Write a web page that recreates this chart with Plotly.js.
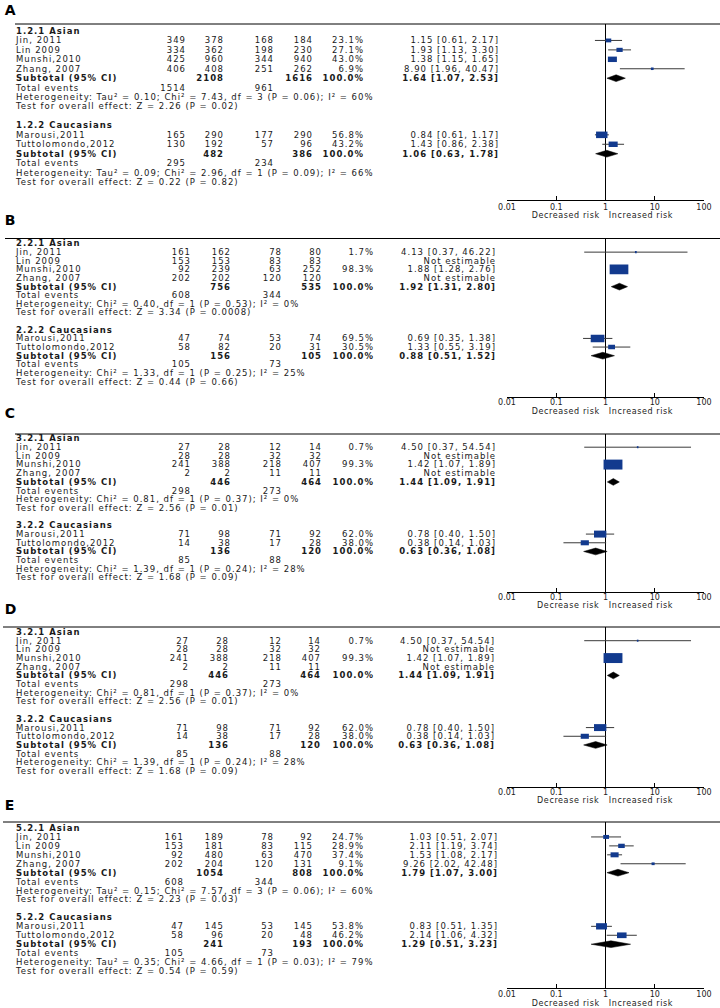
<!DOCTYPE html>
<html>
<head>
<meta charset="utf-8">
<script src="https://cdn.plot.ly/plotly-3.0.1.min.js"></script>
<style>
body{margin:0;background:#fff}
/* the reference glyphs are stretched sideways, so open the text up a little */
#chart .textpoint text{letter-spacing:1px}
#chart .annotation-text{letter-spacing:0.6px}
</style>
</head>
<body>
<div id="chart" style="width:720px;height:1008px"></div>
<script>
// study names (same order in every panel: 4 Asian, then 2 Caucasian)
const studyNames = ['Jin, 2011', 'Lin 2009', 'Munshi,2010', 'Zhang, 2007', 'Marousi,2011', 'Tuttolomondo,2012'];
const tickVals = [0.01, 0.1, 1, 10, 100];
const tickText = ['0.01', '0.1', '1', '10', '100'];

// panel A
const aGroups = ['1.2.1 Asian', '1.2.2 Caucasians'];
const aCaseEvents = [349, 334, 425, 406, 165, 130];
const aCaseTotal = [378, 362, 960, 408, 290, 192];
const aCtrlEvents = [168, 198, 344, 251, 177, 57];
const aCtrlTotal = [184, 230, 940, 262, 290, 96];
const aWeight = [23.1, 27.1, 43.0, 6.9, 56.8, 43.2];
const aOR = [1.15, 1.93, 1.38, 8.90, 0.84, 1.43];
const aLow = [0.61, 1.13, 1.15, 1.96, 0.61, 0.86];
const aHigh = [2.17, 3.30, 1.65, 40.47, 1.17, 2.38];
const aSubCaseTotal = [2108, 482];
const aSubCtrlTotal = [1616, 386];
const aSubOR = [1.64, 1.06];
const aSubLow = [1.07, 0.63];
const aSubHigh = [2.53, 1.78];
const aTotCaseEv = [1514, 295];
const aTotCtrlEv = [961, 234];
const aHet = ['Tau² = 0.10; Chi² = 7.43, df = 3 (P = 0.06); I² = 60%', 'Tau² = 0.09; Chi² = 2.96, df = 1 (P = 0.09); I² = 66%'];
const aZ = ['Z = 2.26 (P = 0.02)', 'Z = 0.22 (P = 0.82)'];

// panel B
const bGroups = ['2.2.1 Asian', '2.2.2 Caucasians'];
const bCaseEvents = [161, 153, 92, 202, 47, 58];
const bCaseTotal = [162, 153, 239, 202, 74, 82];
const bCtrlEvents = [78, 83, 63, 120, 53, 20];
const bCtrlTotal = [80, 83, 252, 120, 74, 31];
const bWeight = [1.7, null, 98.3, null, 69.5, 30.5];
const bOR = [4.13, null, 1.88, null, 0.69, 1.33];
const bLow = [0.37, null, 1.28, null, 0.35, 0.55];
const bHigh = [46.22, null, 2.76, null, 1.38, 3.19];
const bSubCaseTotal = [756, 156];
const bSubCtrlTotal = [535, 105];
const bSubOR = [1.92, 0.88];
const bSubLow = [1.31, 0.51];
const bSubHigh = [2.80, 1.52];
const bTotCaseEv = [608, 105];
const bTotCtrlEv = [344, 73];
const bHet = ['Chi² = 0.40, df = 1 (P = 0.53); I² = 0%', 'Chi² = 1.33, df = 1 (P = 0.25); I² = 25%'];
const bZ = ['Z = 3.34 (P = 0.0008)', 'Z = 0.44 (P = 0.66)'];

// panel C (panel D shows the same numbers)
const cGroups = ['3.2.1 Asian', '3.2.2 Caucasians'];
const cCaseEvents = [27, 28, 241, 2, 71, 14];
const cCaseTotal = [28, 28, 388, 2, 98, 38];
const cCtrlEvents = [12, 32, 218, 11, 71, 17];
const cCtrlTotal = [14, 32, 407, 11, 92, 28];
const cWeight = [0.7, null, 99.3, null, 62.0, 38.0];
const cOR = [4.50, null, 1.42, null, 0.78, 0.38];
const cLow = [0.37, null, 1.07, null, 0.40, 0.14];
const cHigh = [54.54, null, 1.89, null, 1.50, 1.03];
const cSubCaseTotal = [446, 136];
const cSubCtrlTotal = [464, 120];
const cSubOR = [1.44, 0.63];
const cSubLow = [1.09, 0.36];
const cSubHigh = [1.91, 1.08];
const cTotCaseEv = [298, 85];
const cTotCtrlEv = [273, 88];
const cHet = ['Chi² = 0.81, df = 1 (P = 0.37); I² = 0%', 'Chi² = 1.39, df = 1 (P = 0.24); I² = 28%'];
const cZ = ['Z = 2.56 (P = 0.01)', 'Z = 1.68 (P = 0.09)'];

// panel E
const eGroups = ['5.2.1 Asian', '5.2.2 Caucasians'];
const eCaseEvents = [161, 153, 92, 202, 47, 58];
const eCaseTotal = [189, 181, 480, 204, 145, 96];
const eCtrlEvents = [78, 83, 63, 120, 53, 20];
const eCtrlTotal = [92, 115, 470, 131, 145, 48];
const eWeight = [24.7, 28.9, 37.4, 9.1, 53.8, 46.2];
const eOR = [1.03, 2.11, 1.53, 9.26, 0.83, 2.14];
const eLow = [0.51, 1.19, 1.08, 2.02, 0.51, 1.06];
const eHigh = [2.07, 3.74, 2.17, 42.48, 1.35, 4.32];
const eSubCaseTotal = [1054, 241];
const eSubCtrlTotal = [808, 193];
const eSubOR = [1.79, 1.29];
const eSubLow = [1.07, 0.51];
const eSubHigh = [3.00, 3.23];
const eTotCaseEv = [608, 105];
const eTotCtrlEv = [344, 73];
const eHet = ['Tau² = 0.15; Chi² = 7.57, df = 3 (P = 0.06); I² = 60%', 'Tau² = 0.35; Chi² = 4.66, df = 1 (P = 0.03); I² = 79%'];
const eZ = ['Z = 2.23 (P = 0.03)', 'Z = 0.54 (P = 0.59)'];

const W = 720, H = 1008;
const FONT = 'DejaVu Sans, Verdana, sans-serif';
const FS = 8.5;          // table font size
const FS_HEAD = 8;       // column headers sit very close together
const TXT_SHIFT = 0.8;   // px, nudges text rows down onto the marks
const FX0 = 507, FX1 = 704; // forest axis in px
const pxPerDecade = (FX1 - FX0) / 4;
const NAVY = '#123a8e';

// row layout inside a panel
const ROW_GROUP = [0, 10];
const ROW_STUDY = [1, 2, 3, 4, 11, 12];
const ROW_SUB = [5, 13], ROW_TOT = [6, 14], ROW_HET = [7, 15], ROW_TEST = [8, 16];

function mk(letter, groups, method, lowLabel, d, geo) {
    return Object.assign({ letter, groups, method, lowLabel, geo }, d);
}
const dataA = { caseEv: aCaseEvents, caseTot: aCaseTotal, ctrlEv: aCtrlEvents, ctrlTot: aCtrlTotal, weight: aWeight, or: aOR, lo: aLow, hi: aHigh,
    subCase: aSubCaseTotal, subCtrl: aSubCtrlTotal, subOr: aSubOR, subLo: aSubLow, subHi: aSubHigh, totCase: aTotCaseEv, totCtrl: aTotCtrlEv, het: aHet, z: aZ };
const dataB = { caseEv: bCaseEvents, caseTot: bCaseTotal, ctrlEv: bCtrlEvents, ctrlTot: bCtrlTotal, weight: bWeight, or: bOR, lo: bLow, hi: bHigh,
    subCase: bSubCaseTotal, subCtrl: bSubCtrlTotal, subOr: bSubOR, subLo: bSubLow, subHi: bSubHigh, totCase: bTotCaseEv, totCtrl: bTotCtrlEv, het: bHet, z: bZ };
const dataC = { caseEv: cCaseEvents, caseTot: cCaseTotal, ctrlEv: cCtrlEvents, ctrlTot: cCtrlTotal, weight: cWeight, or: cOR, lo: cLow, hi: cHigh,
    subCase: cSubCaseTotal, subCtrl: cSubCtrlTotal, subOr: cSubOR, subLo: cSubLow, subHi: cSubHigh, totCase: cTotCaseEv, totCtrl: cTotCtrlEv, het: cHet, z: cZ };
const dataE = { caseEv: eCaseEvents, caseTot: eCaseTotal, ctrlEv: eCtrlEvents, ctrlTot: eCtrlTotal, weight: eWeight, or: eOR, lo: eLow, hi: eHigh,
    subCase: eSubCaseTotal, subCtrl: eSubCtrlTotal, subOr: eSubOR, subLo: eSubLow, subHi: eSubHigh, totCase: eTotCaseEv, totCtrl: eTotCtrlEv, het: eHet, z: eZ };

const panels = [
    mk('A', aGroups, 'M-H, Random, 95% CI', 'Decreased risk', dataA,
        { letterY: 10, caseY: 11, headY: 20.5, lineY: 24, lineX0: 15, row0: 31, step: 9.44, axisY: 200, riskY: 215, standoff: -1,
          cols: [185, 223, 273, 312, 363, 498], caseX: 179, ctrlX: 268, orX: [431, 441] }),
    mk('B', bGroups, 'M-H, Fixed, 95% CI', 'Decreased risk', dataB,
        { letterY: 220, caseY: 226.5, headY: 235, lineY: 238.5, lineX0: 5, row0: 243.5, step: 8.63, axisY: 396.5, riskY: 411, standoff: -2,
          cols: [190, 230, 281, 321, 373, 495], caseX: 184, ctrlX: 276, orX: [435, 445] }),
    mk('C', cGroups, 'M-H, Fixed, 95% CI', 'Decrease risk', dataC,
        { letterY: 413, caseY: 421, headY: 429.5, lineY: 434, lineX0: 15, row0: 438.5, step: 8.69, axisY: 592, riskY: 605, standoff: -3,
          cols: [190, 230, 281, 321, 373, 495], caseX: 184, ctrlX: 276, orX: [435, 445] }),
    mk('D', cGroups, 'M-H, Fixed, 95% CI', 'Decrease risk', dataC,
        { letterY: 609, caseY: 615, headY: 623, lineY: 627, lineX0: 3, row0: 632, step: 8.69, axisY: 787, riskY: 800, standoff: -3,
          cols: [188, 228, 281, 320, 373, 494], caseX: 183, ctrlX: 275, orX: [433, 443] }),
    mk('E', eGroups, 'M-H, Random, 95% CI', 'Decreased risk', dataE,
        { letterY: 805, caseY: 810.5, headY: 818.5, lineY: 822, lineX0: 3, row0: 828, step: 8.94, axisY: 988, riskY: 1003, standoff: -2,
          cols: [183, 223, 273, 312, 363, 497], caseX: 178, ctrlX: 268, orX: [431, 441] })
];

const fmtCI = (o, l, h) => `${o.toFixed(2)} [${l.toFixed(2)}, ${h.toFixed(2)}]`;
const POS = { L: 'middle right', R: 'middle left', C: 'middle center' };

const traces = [];
const shapes = [];
const annotations = [];
const layout = {
    width: W, height: H,
    margin: { l: 0, r: 0, t: 0, b: 0 },
    paper_bgcolor: '#fff', plot_bgcolor: 'rgba(0,0,0,0)',
    showlegend: false,
    font: { family: FONT, size: FS, color: '#1a1a1a' },
    xaxis6: { domain: [0, 1], range: [0, W], visible: false, anchor: 'y', fixedrange: true }
};

panels.forEach((p, i) => {
    const n = i + 1;
    const sfx = n === 1 ? '' : String(n);
    const xa = 'x' + sfx, ya = 'y' + sfx;
    const g = p.geo;
    const rowOf = px => (px - g.row0) / g.step;
    const dy = TXT_SHIFT / g.step;

    layout['yaxis' + sfx] = {
        domain: [1 - g.axisY / H, 1 - g.lineY / H],
        range: [rowOf(g.axisY), rowOf(g.lineY)],
        visible: false, fixedrange: true
    };
    layout['xaxis' + sfx] = {
        type: 'log', domain: [FX0 / W, FX1 / W], range: [-2, 2], anchor: ya,
        tickvals: tickVals, ticktext: tickText, ticks: 'inside', ticklen: 4, tickcolor: '#000',
        showline: true, linecolor: '#000', linewidth: 1, showgrid: false, zeroline: false,
        tickfont: { family: FONT, size: 8, color: '#222' }, ticklabelstandoff: g.standoff, fixedrange: true
    };

    // table text: one trace per style
    const txt = {};
    const put = (style, x, row, text, al) => {
        const t = txt[style] || (txt[style] = { x: [], y: [], text: [], pos: [] });
        t.x.push(al === 'R' ? x + 1 : x); t.y.push(row + dy); t.text.push(text); t.pos.push(POS[al]);
    };
    const c = g.cols;
    const hy1 = rowOf(g.caseY), hy2 = rowOf(g.headY);
    put('head', g.caseX, hy1, 'Case', 'C');
    put('head', g.ctrlX, hy1, 'Control', 'C');
    put('head', g.orX[0], hy1, 'Odds Ratio', 'C');
    put('head', 606, hy1, 'Odds Ratio', 'C');
    put('head', 16, hy2, 'Study or Subgroup', 'L');
    put('head', c[0] + 1, hy2, 'Events', 'R');
    put('head', c[1] + 1, hy2, 'Total', 'R');
    put('head', c[2] + 1, hy2, 'Events', 'R');
    put('head', c[3] + 1, hy2, 'Total', 'R');
    put('head', c[4], hy2, 'Weight', 'R');
    put('head', g.orX[1], hy2, p.method, 'C');
    put('head', 606, hy2, p.method, 'C');

    ROW_STUDY.forEach((r, k) => {
        put('normal', 16, r, studyNames[k], 'L');
        put('normal', c[0], r, String(p.caseEv[k]), 'R');
        put('normal', c[1], r, String(p.caseTot[k]), 'R');
        put('normal', c[2], r, String(p.ctrlEv[k]), 'R');
        put('normal', c[3], r, String(p.ctrlTot[k]), 'R');
        if (p.weight[k] !== null) put('normal', c[4], r, p.weight[k].toFixed(1) + '%', 'R');
        put('normal', c[5], r, p.or[k] !== null ? fmtCI(p.or[k], p.lo[k], p.hi[k]) : 'Not estimable', 'R');
    });
    [0, 1].forEach(s => {
        put('bold', 16, ROW_GROUP[s], p.groups[s], 'L');
        put('bold', 16, ROW_SUB[s], 'Subtotal (95% CI)', 'L');
        put('bold', c[1], ROW_SUB[s], String(p.subCase[s]), 'R');
        put('bold', c[3], ROW_SUB[s], String(p.subCtrl[s]), 'R');
        put('bold', c[4], ROW_SUB[s], '100.0%', 'R');
        put('bold', c[5], ROW_SUB[s], fmtCI(p.subOr[s], p.subLo[s], p.subHi[s]), 'R');
        put('normal', 16, ROW_TOT[s], 'Total events', 'L');
        put('normal', c[0], ROW_TOT[s], String(p.totCase[s]), 'R');
        put('normal', c[2], ROW_TOT[s], String(p.totCtrl[s]), 'R');
        put('normal', 16, ROW_HET[s], 'Heterogeneity: ' + p.het[s], 'L');
        put('normal', 16, ROW_TEST[s], 'Test for overall effect: ' + p.z[s], 'L');
    });
    Object.keys(txt).forEach(k => {
        const t = txt[k];
        traces.push({
            type: 'scatter', mode: 'text', xaxis: 'x6', yaxis: ya,
            x: t.x, y: t.y, text: t.text, textposition: t.pos, cliponaxis: false,
            textfont: { family: FONT, size: k === 'head' ? FS_HEAD : FS, color: '#1a1a1a', weight: k === 'normal' ? 'normal' : 'bold' },
            hoverinfo: 'skip'
        });
    });

    // confidence interval whiskers
    const ciX = [], ciY = [];
    ROW_STUDY.forEach((r, k) => {
        if (p.or[k] === null) return;
        ciX.push(p.lo[k], p.hi[k], null);
        ciY.push(r, r, null);
    });
    traces.push({ type: 'scatter', mode: 'lines', xaxis: xa, yaxis: ya, x: ciX, y: ciY,
        line: { color: '#3a3a3a', width: 1 }, hoverinfo: 'skip' });

    // weight boxes (size grows with the weight)
    ROW_STUDY.forEach((r, k) => {
        if (p.or[k] === null) return;
        const wPx = 1.5 + p.weight[k] * 0.175;
        const hPx = 2 + p.weight[k] * 0.08;
        const f = Math.pow(10, wPx / 2 / pxPerDecade);
        traces.push({ type: 'scatter', mode: 'lines', xaxis: xa, yaxis: ya,
            x: [p.or[k] / f, p.or[k] * f], y: [r, r],
            line: { color: NAVY, width: hPx }, hoverinfo: 'skip' });
    });

    // subtotal diamonds
    const half = 3.4 / g.step;
    [0, 1].forEach(s => {
        const r = ROW_SUB[s];
        traces.push({ type: 'scatter', mode: 'lines', xaxis: xa, yaxis: ya,
            x: [p.subLo[s], p.subOr[s], p.subHi[s], p.subOr[s], p.subLo[s]],
            y: [r, r - half, r, r + half, r],
            fill: 'toself', fillcolor: '#000', line: { color: '#000', width: 0.5 }, hoverinfo: 'skip' });
    });

    shapes.push({ type: 'line', layer: 'below', xref: 'paper', yref: ya + ' domain',
        x0: g.lineX0 / W, x1: 1, y0: 1, y1: 1, line: { color: '#000', width: 1 } });
    shapes.push({ type: 'line', layer: 'below', xref: xa, yref: ya + ' domain',
        x0: 1, x1: 1, y0: 0, y1: 1, line: { color: '#000', width: 1 } });

    annotations.push({ xref: 'paper', yref: 'paper', x: 3 / W, y: 1 - g.letterY / H, xanchor: 'left', yanchor: 'middle',
        text: '<b>' + p.letter + '</b>', showarrow: false, font: { family: FONT, size: 14, color: '#000' } });
    annotations.push({ xref: 'paper', yref: 'paper', x: 598 / W, y: 1 - g.riskY / H, xanchor: 'right', yanchor: 'middle',
        text: p.lowLabel, showarrow: false, font: { family: FONT, size: 8, color: '#222' } });
    annotations.push({ xref: 'paper', yref: 'paper', x: 611 / W, y: 1 - g.riskY / H, xanchor: 'left', yanchor: 'middle',
        text: 'Increased risk', showarrow: false, font: { family: FONT, size: 8, color: '#222' } });
});

layout.shapes = shapes;
layout.annotations = annotations;

Plotly.newPlot('chart', traces, layout, { staticPlot: true });
</script>
</body>
</html>
